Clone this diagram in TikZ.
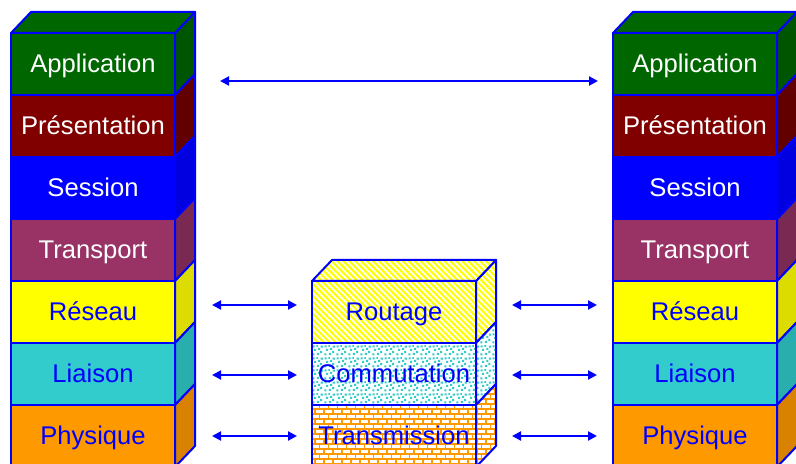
\documentclass[tikz,border=0pt]{standalone}
\usepackage{fontspec}
\setmainfont{Liberation Sans}
\usetikzlibrary{patterns,patterns.meta,arrows.meta}
\definecolor{edge}{HTML}{0000FF}
\definecolor{appF}{HTML}{006600}\definecolor{appS}{HTML}{005500}
\definecolor{preF}{HTML}{800000}\definecolor{preS}{HTML}{620000}
\definecolor{sesF}{HTML}{0000FF}\definecolor{sesS}{HTML}{0000E0}
\definecolor{traF}{HTML}{993366}\definecolor{traS}{HTML}{7A2A52}
\definecolor{resF}{HTML}{FFFF00}\definecolor{resS}{HTML}{DCDC00}
\definecolor{liaF}{HTML}{33CCCC}\definecolor{liaS}{HTML}{2AADAD}
\definecolor{phyF}{HTML}{FF9900}\definecolor{phyS}{HTML}{D98200}
\tikzdeclarepattern{
  name=mybricks, type=uncolored,
  bounding box={(-0.4pt,-0.4pt) and (4.9pt,5.4pt)},
  tile size={(4.5pt,5pt)},
  code={
    \draw[line width=0.7pt] (0,0) -- (4.5pt,0) (0,2.5pt) -- (4.5pt,2.5pt)
      (0,0) -- (0,2.5pt) (2.25pt,2.5pt) -- (2.25pt,5pt);
  }
}
\tikzdeclarepattern{
  name=myspeckle, type=uncolored,
  bounding box={(0pt,0pt) and (6pt,6pt)},
  tile size={(6pt,6pt)},
  code={
    \fill (0.2pt,0.3pt) rectangle ++(1.1pt,1.1pt);
    \fill (2.6pt,0.6pt) rectangle ++(1.1pt,1.1pt);
    \fill (4.4pt,1.6pt) rectangle ++(1.1pt,1.1pt);
    \fill (1.1pt,2.7pt) rectangle ++(1.1pt,1.1pt);
    \fill (3.3pt,3.3pt) rectangle ++(1.1pt,1.1pt);
    \fill (0.3pt,4.6pt) rectangle ++(1.1pt,1.1pt);
    \fill (4.7pt,4.5pt) rectangle ++(1.1pt,1.1pt);
    \fill (2.3pt,4.9pt) rectangle ++(0.9pt,0.9pt);
  }
}
\tikzset{
  layer/.style={draw=edge, line width=1pt, minimum width=82pt, minimum height=31pt,
    inner sep=0pt, outer sep=0pt, anchor=north west, text height=10.25pt, text depth=1.75pt,
    font=\fontsize{12.8}{14}\selectfont},
  side/.style={draw=edge, line width=1pt, line join=round},
  stripes/.style={pattern={Lines[angle=-45,distance=2.1pt,line width=1.1pt]}, pattern color=resF, preaction={fill=white}},
  dotty/.style={pattern=myspeckle, pattern color=liaF, preaction={fill=white}},
  brick/.style={pattern=mybricks, pattern color=phyF, preaction={fill=white}},
  conn/.style={draw=edge, line width=1pt, {Triangle[length=4.5pt,width=4.5pt]}-{Triangle[length=4.5pt,width=4.5pt]}}
}
\begin{document}
\begin{tikzpicture}[x=0.5pt,y=-0.5pt]
\useasboundingbox (0,0) rectangle (796,464);
% OSI stacks
\foreach \p/\x in {L/11, R/613} {
  \foreach \lab/\fc/\sc/\tc [count=\i] in {Application/appF/appS/white,
      Présentation/preF/preS/white, Session/sesF/sesS/white,
      Transport/traF/traS/white, Réseau/resF/resS/edge,
      Liaison/liaF/liaS/edge, Physique/phyF/phyS/edge} {
    \node[layer, fill=\fc, text=\tc] (\p\i) at (\x,{33+62*(\i-1)}) {\lab};
    \filldraw[side, fill=\sc] (\p\i.north east) -- ++(20,-21) -- ++(0,62) -- (\p\i.south east) -- cycle;
  }
  \filldraw[side, fill=appF] (\p1.north west) -- ++(20,-21) -- ++(164,0) -- (\p1.north east) -- cycle;
}
% relay stack
\node[layer, stripes, text=edge] (M1) at (312,281) {Routage};
\filldraw[side, stripes] (M1.north east) -- ++(20,-21) -- ++(0,62) -- (M1.south east) -- cycle;
\filldraw[side, stripes] (M1.north west) -- ++(20,-21) -- ++(164,0) -- (M1.north east) -- cycle;
\node[layer, dotty, text=edge] (M2) at (312,343) {Commutation};
\filldraw[side, dotty] (M2.north east) -- ++(20,-21) -- ++(0,62) -- (M2.south east) -- cycle;
\node[layer, brick, text=edge] (M3) at (312,405) {Transmission};
\filldraw[side, brick] (M3.north east) -- ++(20,-21) -- ++(0,62) -- (M3.south east) -- cycle;
% arrow end points
\coordinate (t1) at (220,81);  \coordinate (t2) at (598,81);
\foreach \y [count=\k] in {305,375,436} {
  \coordinate (la\k) at (212,\y); \coordinate (lb\k) at (297,\y);
  \coordinate (ra\k) at (512,\y); \coordinate (rb\k) at (597,\y);
}
\draw[conn] (t1) -- (t2);
\foreach \k in {1,2,3} {
  \draw[conn] (la\k) -- (lb\k);
  \draw[conn] (ra\k) -- (rb\k);
}
\end{tikzpicture}
\end{document}
